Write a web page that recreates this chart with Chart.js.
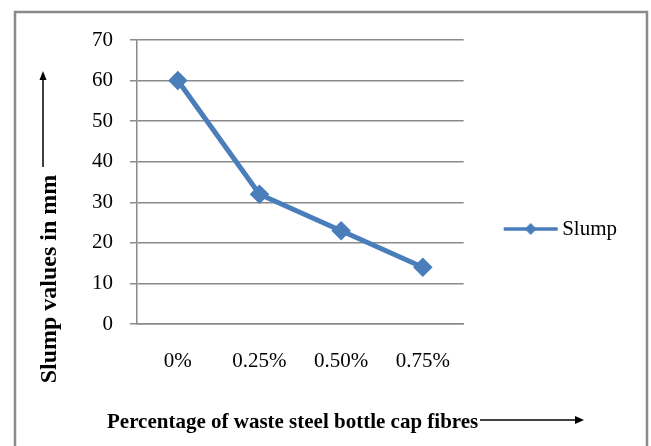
<!DOCTYPE html>
<html>
<head>
<meta charset="utf-8">
<script src="https://cdn.jsdelivr.net/npm/chart.js@4/dist/chart.umd.min.js"></script>
<style>
  html, body { margin: 0; padding: 0; background: #fff; }
  #wrap { width: 651px; height: 446px; }
</style>
</head>
<body>
<div id="wrap"><canvas id="slumpChart" width="651" height="446"></canvas></div>
<script>
const categories = ["0%", "0.25%", "0.50%", "0.75%"];
const slumpValues = [60, 32, 23, 14];
const seriesName = "Slump";
const xTitle = "Percentage of waste steel bottle cap fibres";
const yTitle = "Slump values in mm";

const BLUE = "#4a7ebb";
const GRID = "#8a8a8a";
const SERIF = "'Liberation Serif', 'Times New Roman', serif";

// legend symbol: short line with a diamond on it
function makeLegendSymbol() {
  const c = document.createElement("canvas");
  c.width = 64;
  c.height = 16;
  const g = c.getContext("2d");
  g.strokeStyle = BLUE;
  g.lineWidth = 3.5;
  g.beginPath();
  g.moveTo(8, 8);
  g.lineTo(62, 8);
  g.stroke();
  g.fillStyle = BLUE;
  g.beginPath();
  g.moveTo(35, 2);
  g.lineTo(41, 8);
  g.lineTo(35, 14);
  g.lineTo(29, 8);
  g.closePath();
  g.fill();
  return c;
}

// outer frame, axis titles with their arrows
const decorations = {
  id: "decorations",
  beforeDraw(chart) {
    const ctx = chart.ctx;
    ctx.save();
    ctx.strokeStyle = GRID;
    ctx.lineWidth = 2.5;
    ctx.beginPath();
    ctx.moveTo(15, 450);
    ctx.lineTo(15, 12);
    ctx.lineTo(647, 12);
    ctx.lineTo(647, 450);
    ctx.stroke();
    ctx.restore();
  },
  afterDraw(chart) {
    const ctx = chart.ctx;
    ctx.save();
    ctx.strokeStyle = "#000";
    ctx.fillStyle = "#000";
    ctx.lineWidth = 1.5;
    // x title, runs into its arrow like the original
    ctx.font = "bold 21px " + SERIF;
    ctx.textAlign = "left";
    ctx.textBaseline = "alphabetic";
    ctx.fillText(xTitle, 107, 428);
    // vertical arrow
    ctx.beginPath();
    ctx.moveTo(43, 167);
    ctx.lineTo(43, 79);
    ctx.stroke();
    ctx.beginPath();
    ctx.moveTo(43, 71);
    ctx.lineTo(46.5, 80);
    ctx.lineTo(39.5, 80);
    ctx.closePath();
    ctx.fill();
    // horizontal arrow
    ctx.beginPath();
    ctx.moveTo(480, 420);
    ctx.lineTo(576, 420);
    ctx.stroke();
    ctx.beginPath();
    ctx.moveTo(584, 420);
    ctx.lineTo(575, 416);
    ctx.lineTo(575, 424);
    ctx.closePath();
    ctx.fill();
    // y title
    ctx.translate(56, 279);
    ctx.rotate(-Math.PI / 2);
    ctx.font = "bold 24px " + SERIF;
    ctx.textAlign = "center";
    ctx.fillText(yTitle, 0, 0);
    ctx.restore();
  }
};

const ctx = document.getElementById("slumpChart").getContext("2d");
const chart = new Chart(ctx, {
  type: "line",
  data: {
    labels: categories,
    datasets: [{
      label: seriesName,
      data: slumpValues,
      borderColor: BLUE,
      backgroundColor: BLUE,
      borderWidth: 5,
      pointStyle: "rectRot",
      pointRadius: 8,
      pointBorderWidth: 2.5,
      pointBackgroundColor: BLUE,
      pointBorderColor: BLUE,
      tension: 0
    }]
  },
  options: {
    responsive: false,
    animation: false,
    devicePixelRatio: 1,
    layout: { padding: { left: 15, right: 24, top: 12, bottom: 0 } },
    plugins: {
      title: {
        display: true,
        text: "",
        padding: 0,
        font: { size: 10, lineHeight: "28px" }
      },
      legend: {
        display: true,
        position: "right",
        maxWidth: 300,
        labels: {
          usePointStyle: true,
          pointStyle: makeLegendSymbol(),
          pointStyleWidth: 48,
          padding: 40,
          color: "#000",
          font: { family: SERIF, size: 21 }
        }
      },
      tooltip: { enabled: false }
    },
    scales: {
      x: {
        offset: true,
        grid: { display: false, drawTicks: false },
        border: { display: true, color: GRID, width: 1.5 },
        ticks: {
          color: "#000",
          padding: 25,
          font: { family: SERIF, size: 21 }
        },
        afterFit(scale) { scale.height = 122; }
      },
      y: {
        min: 0,
        max: 70,
        ticks: {
          stepSize: 10,
          color: "#000",
          padding: 17,
          font: { family: SERIF, size: 21 }
        },
        grid: { color: GRID, lineWidth: 1.5, tickLength: 7 },
        border: { display: true, color: GRID, width: 1.5 },
        afterFit(scale) { scale.width = 122; }
      }
    }
  },
  plugins: [decorations]
});
</script>
</body>
</html>
